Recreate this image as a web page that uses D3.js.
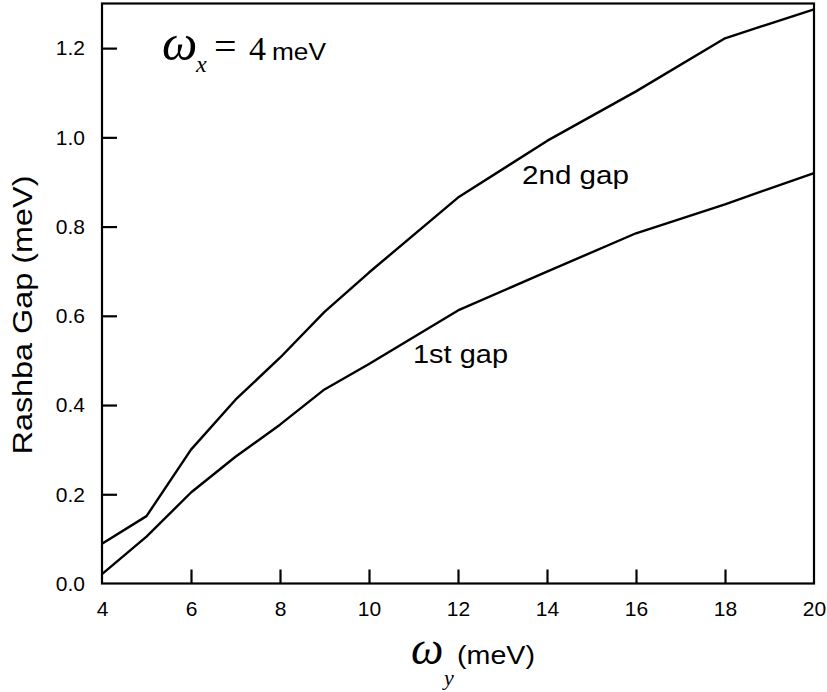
<!DOCTYPE html>
<html>
<head>
<meta charset="utf-8">
<script src="https://cdn.jsdelivr.net/npm/d3@7"></script>
<style>
  body { margin: 0; background: #fff; }
  text { font-family: "Liberation Sans", Arial, sans-serif; fill: #000; }
</style>
</head>
<body>
<div id="chart"></div>
<script>
// omega_y values (meV)
var omegaY = [4, 5, 6, 7, 8, 9, 10, 12, 14, 16, 18, 20];
// Rashba gaps (meV)
var firstGap  = [0.021, 0.105, 0.204, 0.284, 0.356, 0.435, 0.492, 0.612, 0.699, 0.785, 0.850, 0.920];
var secondGap = [0.089, 0.151, 0.300, 0.412, 0.506, 0.609, 0.697, 0.865, 0.992, 1.103, 1.222, 1.287];
var xTicks = [4, 6, 8, 10, 12, 14, 16, 18, 20];
var yTicks = [0.0, 0.2, 0.4, 0.6, 0.8, 1.0, 1.2];

var svgWidth = 827;
var svgHeight = 692;

var margin = { top: 3.5, right: 13, bottom: 108.5, left: 102 };
var width = svgWidth - margin.left - margin.right;
var height = svgHeight - margin.top - margin.bottom;

var svg = d3.select("#chart")
  .append("svg")
  .attr("width", svgWidth)
  .attr("height", svgHeight);

var chartGroup = svg.append("g")
  .attr("transform", `translate(${margin.left}, ${margin.top})`);

var xScale = d3.scaleLinear().domain([4, 20]).range([0, width]);
var yScale = d3.scaleLinear().domain([0, 1.3]).range([height, 0]);

// frame
chartGroup.append("rect")
  .attr("x", 0).attr("y", 0)
  .attr("width", width).attr("height", height)
  .attr("fill", "none")
  .attr("stroke", "#000")
  .attr("stroke-width", 2.2);

// axes with inward ticks
var bottomAxis = d3.axisBottom(xScale)
  .tickValues(xTicks)
  .tickSizeInner(-14)
  .tickSizeOuter(0)
  .tickPadding(18)
  .tickFormat(d3.format("d"));

var leftAxis = d3.axisLeft(yScale)
  .tickValues(yTicks)
  .tickSizeInner(-15)
  .tickSizeOuter(0)
  .tickPadding(17)
  .tickFormat(d3.format(".1f"));

var xAxisG = chartGroup.append("g")
  .attr("transform", `translate(0, ${height})`)
  .call(bottomAxis);

var yAxisG = chartGroup.append("g")
  .call(leftAxis);

[xAxisG, yAxisG].forEach(function(g) {
  g.attr("font-size", null).attr("font-family", null);
  g.select(".domain").remove();
  g.selectAll(".tick line").attr("stroke", "#000").attr("stroke-width", 2.2);
  g.selectAll(".tick text")
    .style("font-family", "'Liberation Sans', Arial, sans-serif")
    .style("font-size", "21px")
    .attr("fill", "#000");
});
// frame already draws the edges
xAxisG.selectAll(".tick line").filter(d => d === 4 || d === 20).remove();
yAxisG.selectAll(".tick line").filter(d => d === 0).remove();

// lines
var line = d3.line()
  .x(d => xScale(d[0]))
  .y(d => yScale(d[1]));

[firstGap, secondGap].forEach(function(series) {
  chartGroup.append("path")
    .datum(omegaY.map((x, i) => [x, series[i]]))
    .attr("d", line)
    .attr("fill", "none")
    .attr("stroke", "#000")
    .attr("stroke-width", 2.4)
    .attr("stroke-linejoin", "round");
});

// curve labels
svg.append("text")
  .attr("x", 522).attr("y", 184)
  .attr("font-size", "26px")
  .attr("textLength", 107)
  .attr("lengthAdjust", "spacingAndGlyphs")
  .text("2nd gap");

svg.append("text")
  .attr("x", 413).attr("y", 363)
  .attr("font-size", "26px")
  .attr("textLength", 95)
  .attr("lengthAdjust", "spacingAndGlyphs")
  .text("1st gap");

// y axis label
svg.append("text")
  .attr("transform", "translate(32, 315) rotate(-90)")
  .attr("text-anchor", "middle")
  .attr("font-size", "27px")
  .attr("textLength", 279)
  .attr("lengthAdjust", "spacingAndGlyphs")
  .text("Rashba Gap (meV)");

// x axis label: omega_y (meV)
var serif = "'Liberation Serif', 'Times New Roman', serif";
var xLabel = svg.append("text").attr("x", 411).attr("y", 664);
xLabel.append("tspan")
  .style("font-family", serif)
  .attr("font-style", "italic")
  .attr("font-size", "46px")
  .text("ω");
xLabel.append("tspan")
  .attr("x", 444).attr("dy", 21)
  .style("font-family", serif)
  .attr("font-style", "italic")
  .attr("font-size", "22px")
  .text("y");
xLabel.append("tspan")
  .attr("x", 457).attr("dy", -21)
  .attr("font-size", "26px")
  .attr("textLength", 78)
  .attr("lengthAdjust", "spacingAndGlyphs")
  .text("(meV)");

// annotation: omega_x = 4 meV
var note = svg.append("text").attr("x", 162).attr("y", 60);
note.append("tspan")
  .style("font-family", serif)
  .attr("font-style", "italic")
  .attr("font-size", "50px")
  .text("ω");
note.append("tspan")
  .attr("x", 196).attr("dy", 12)
  .style("font-family", serif)
  .attr("font-style", "italic")
  .attr("font-size", "24px")
  .text("x");
note.append("tspan")
  .attr("x", 214).attr("dy", -12)
  .style("font-family", serif)
  .attr("font-size", "40px")
  .text("=");
note.append("tspan")
  .attr("x", 249)
  .style("font-family", serif)
  .attr("font-size", "34px")
  .text("4");
note.append("tspan")
  .attr("x", 272)
  .attr("font-size", "23px")
  .attr("textLength", 54)
  .attr("lengthAdjust", "spacingAndGlyphs")
  .text("meV");
</script>
</body>
</html>
